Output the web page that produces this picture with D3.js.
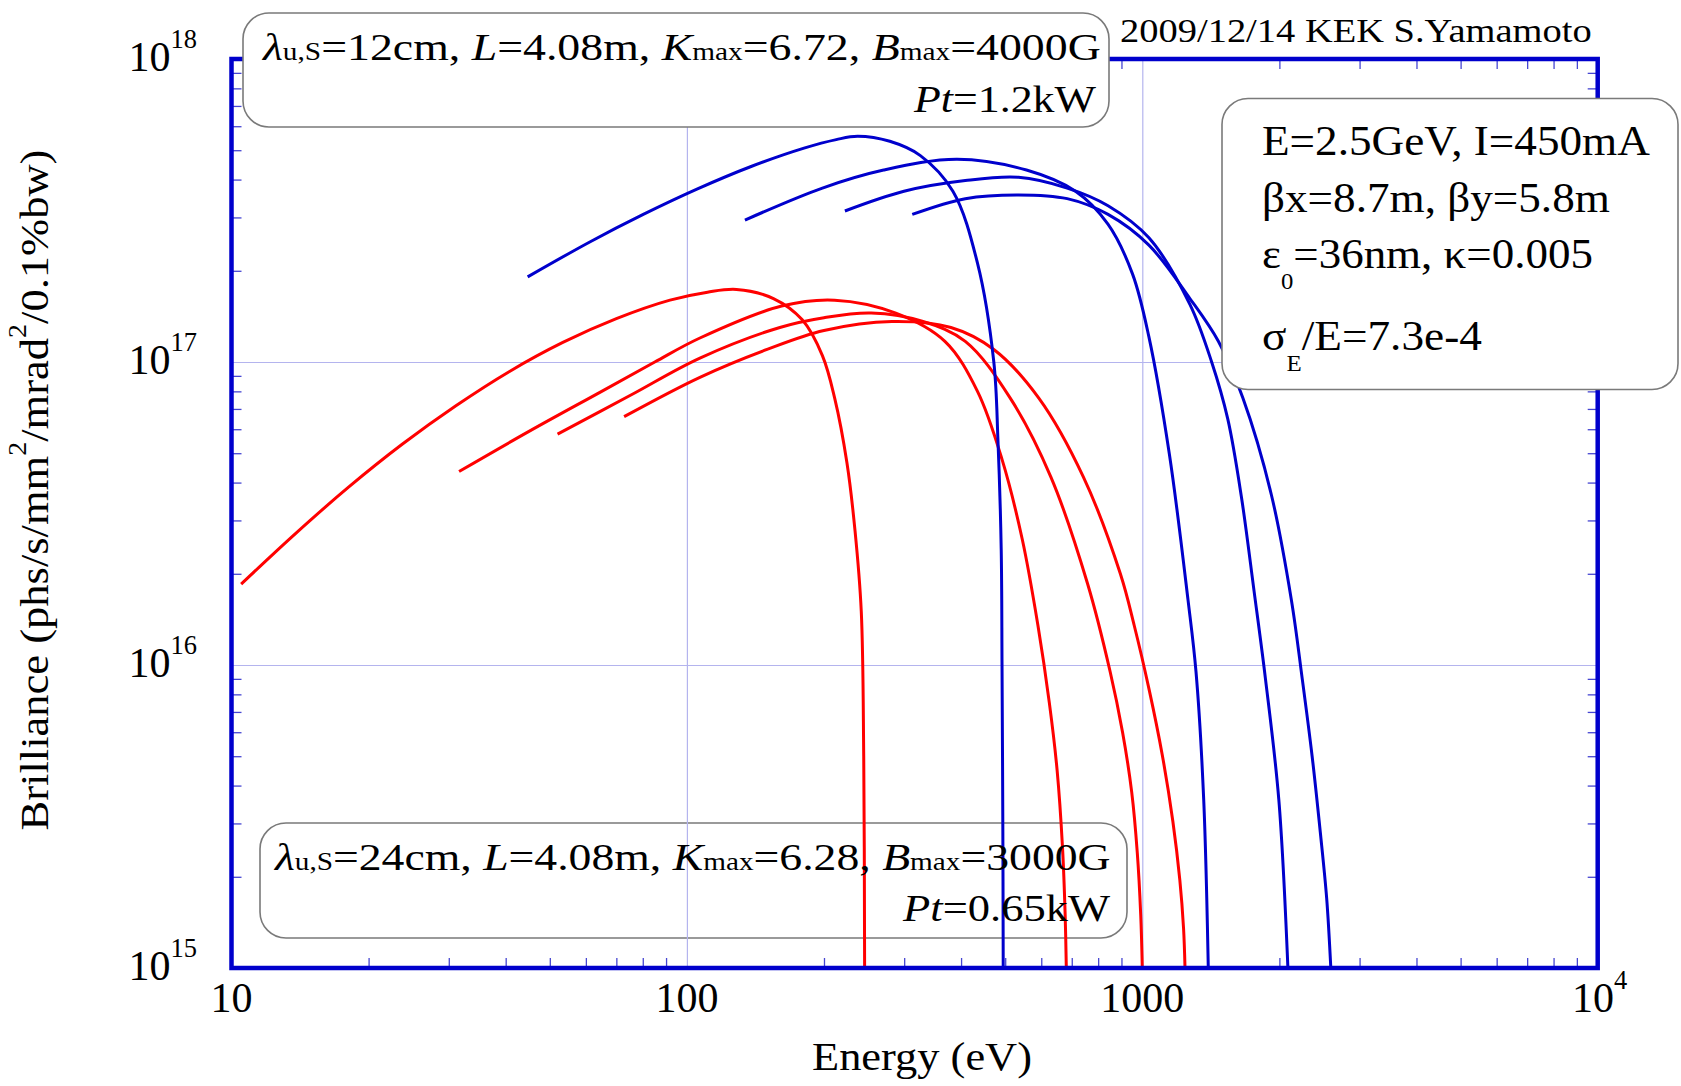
<!DOCTYPE html>
<html>
<head>
<meta charset="utf-8">
<script src="https://cdn.jsdelivr.net/npm/d3@7"></script>
<style>
  body { margin: 0; background: #fff; }
  svg { display: block; font-family: "Liberation Serif", "Times New Roman", serif; }
  text { white-space: pre; }
</style>
</head>
<body>
<svg id="chart" width="1681" height="1086"></svg>
<script>
// harmonic tuning curves (n = 1, 3, 5, 7), energy in eV, brilliance in phs/s/mm2/mrad2/0.1%bw
// lambda_u = 24 cm (red)
const red1E = [10.5, 13.8, 18.1, 23.7, 31.1, 40.7, 53.4, 70, 91.8, 111, 128.5, 154.9, 179, 198.4, 211.1, 224.6, 234, 241.5, 244.5, 245.6];
const red1B = [1.85e16, 2.71e16, 3.87e16, 5.35e16, 7.17e16, 9.29e16, 1.16e17, 1.39e17, 1.6e17, 1.7e17, 1.736e17, 1.62e17, 1.38e17, 1.05e17, 7.6e16, 4.65e16, 2.77e16, 1.5e16, 5e15, 1e15];
const red3E = [31.6, 45, 65, 85, 106.8, 161.4, 211, 287.6, 368.6, 434.6, 492, 545, 590, 625, 650, 668, 677, 681];
const red3B = [4.35e16, 5.9e16, 8.0e16, 1.0e17, 1.2e17, 1.53e17, 1.6e17, 1.45e17, 1.17e17, 8.0e16, 4.77e16, 2.6e16, 1.35e16, 7.5e15, 4.5e15, 2.5e15, 1.5e15, 1e15];
const red5E = [52, 75, 106.8, 160, 200, 254, 330, 408.6, 512.9, 630, 758.6, 850, 905, 948, 975, 992, 1000];
const red5B = [5.78e16, 7.75e16, 1.03e17, 1.3e17, 1.4e17, 1.45e17, 1.36e17, 1.17e17, 7.6e16, 4.17e16, 1.85e16, 9.5e15, 6.0e15, 3.8e15, 2.4e15, 1.5e15, 1e15];
const red7E = [72.8, 106.8, 150, 200, 281.8, 380, 472, 592.6, 742.6, 895, 960, 1036, 1106, 1167, 1209, 1232, 1241];
const red7B = [6.6e16, 8.9e16, 1.1e17, 1.27e17, 1.36e17, 1.3e17, 1.1e17, 7.6e16, 4.17e16, 2.0e16, 1.35e16, 8.25e15, 5.06e15, 3.05e15, 1.95e15, 1.35e15, 1e15];
// lambda_u = 12 cm (blue)
const blue1E = [44.7, 61.2, 80.2, 105.2, 137.9, 180.8, 212.8, 237.1, 279, 325.6, 383.8, 434.6, 472, 482, 490, 492, 494, 495];
const blue1B = [1.91e17, 2.49e17, 3.07e17, 3.72e17, 4.41e17, 5.08e17, 5.42e17, 5.56e17, 5.35e17, 4.8e17, 3.66e17, 2.12e17, 1e17, 5.5e16, 2.4e16, 1e16, 3e15, 1e15];
const blue3E = [134.1, 198.4, 270.4, 392, 556.8, 713.4, 840.6, 952, 1034, 1147, 1260, 1312, 1364, 1396];
const blue3B = [2.94e17, 3.75e17, 4.3e17, 4.67e17, 4.3e17, 3.66e17, 2.85e17, 1.95e17, 1.21e17, 4.95e16, 1.64e16, 9.5e15, 3.6e15, 1e15];
const blue5E = [222.3, 299.7, 408.6, 534.6, 684, 841, 1034, 1272, 1420, 1540, 1650, 1760, 1864, 1994, 2088];
const blue5B = [3.15e17, 3.66e17, 3.97e17, 4.07e17, 3.75e17, 3.28e17, 2.57e17, 1.55e17, 1e17, 6.5e16, 3.6e16, 1.75e16, 9e15, 3.6e15, 1e15];
const blue7E = [312.5, 408.6, 534.6, 684, 841, 1034, 1272, 1469, 1663, 1921, 2125, 2245, 2360, 2460, 2540, 2594];
const blue7B = [3.07e17, 3.46e17, 3.56e17, 3.46e17, 3.07e17, 2.43e17, 1.62e17, 1.17e17, 7.6e16, 3.64e16, 1.64e16, 9e15, 5e15, 2.8e15, 1.7e15, 1e15];

const xTickVals = [10, 100, 1000, 10000];
const xTickText = ["10", "100", "1000", "10"];
const xTickExp = ["", "", "", "4"];
const yTickVals = [1e15, 1e16, 1e17, 1e18];
const yTickExp = ["15", "16", "17", "18"];
const xGrid = [100, 1000];
const yGrid = [1e16, 1e17];

const svg = d3.select("#chart");
const pLeft = 231.5, pRight = 1597.7, pTop = 59, pBottom = 968;

const x = d3.scaleLog().domain([10, 1e4]).range([pLeft, pRight]);
const y = d3.scaleLog().domain([1e15, 1e18]).range([pBottom, pTop]);

const frameBlue = "#0000cc";

// text with italic / small / sup / sub pieces
function rich(t, parts, size) {
  t.attr("font-size", size);
  let shift = 0;
  parts.forEach(p => {
    const sp = t.append("tspan").text(p[0]);
    const k = p[1];
    let target = 0;
    if (k === "i") sp.attr("font-style", "italic");
    if (k === "s") sp.attr("font-size", size * 0.64);
    if (k === "sup") { sp.attr("font-size", size * 0.63); target = -size * 0.55; }
    if (k === "sub") { sp.attr("font-size", size * 0.55); target = size * 0.5; }
    if (target !== shift) { sp.attr("dy", target - shift); shift = target; }
  });
  return t;
}

// put text at px,py and stretch it to a given width
function place(t, px, py, width, rot) {
  const w = t.node().getComputedTextLength();
  const s = width ? width / w : 1;
  t.attr("transform", "translate(" + px + "," + py + ")" + (rot ? " rotate(" + rot + ")" : "") + " scale(" + s + ",1)");
  return t;
}

function box(bx, by, bw, bh, fill) {
  svg.append("rect")
    .attr("x", bx).attr("y", by).attr("width", bw).attr("height", bh)
    .attr("rx", 26).attr("ry", 26)
    .attr("fill", fill).attr("stroke", "#7a7a7a").attr("stroke-width", 1.6);
}

// lower box sits under the curves
box(260, 823, 867, 115, "none");

// grid
svg.append("g")
  .attr("transform", "translate(0," + pBottom + ")")
  .call(d3.axisBottom(x).tickValues(xGrid).tickSize(-(pBottom - pTop)).tickFormat(""))
  .call(g => g.select(".domain").remove())
  .call(g => g.selectAll("line").attr("stroke", "#b4b4ee").attr("stroke-width", 1.2));
svg.append("g")
  .attr("transform", "translate(" + pLeft + ",0)")
  .call(d3.axisLeft(y).tickValues(yGrid).tickSize(-(pRight - pLeft)).tickFormat(""))
  .call(g => g.select(".domain").remove())
  .call(g => g.selectAll("line").attr("stroke", "#b4b4ee").attr("stroke-width", 1.2));

// minor ticks, inward on all four sides
const xMinor = x.ticks().filter(v => !xTickVals.includes(v));
const yMinor = y.ticks().filter(v => !yTickVals.includes(v));
function minor(axis, tr) {
  svg.append("g").attr("transform", tr)
    .call(axis.tickSize(-10).tickFormat(""))
    .call(g => g.select(".domain").remove())
    .call(g => g.selectAll("line").attr("stroke", "#4646d2").attr("stroke-width", 1.3));
}
minor(d3.axisBottom(x).tickValues(xMinor), "translate(0," + pBottom + ")");
minor(d3.axisTop(x).tickValues(xMinor), "translate(0," + pTop + ")");
minor(d3.axisLeft(y).tickValues(yMinor), "translate(" + pLeft + ",0)");
minor(d3.axisRight(y).tickValues(yMinor), "translate(" + pRight + ",0)");

// curves
svg.append("clipPath").attr("id", "plot")
  .append("rect").attr("x", pLeft).attr("y", pTop).attr("width", pRight - pLeft).attr("height", pBottom - pTop);

const line = d3.line()
  .x(d => x(d[0]))
  .y(d => y(d[1]))
  .curve(d3.curveCatmullRom.alpha(0.5));

const series = [
  [red1E, red1B, "#ff0000"], [red3E, red3B, "#ff0000"], [red5E, red5B, "#ff0000"], [red7E, red7B, "#ff0000"],
  [blue1E, blue1B, "#0000cc"], [blue3E, blue3B, "#0000cc"], [blue5E, blue5B, "#0000cc"], [blue7E, blue7B, "#0000cc"]
];
const curves = svg.append("g").attr("clip-path", "url(#plot)");
series.forEach(s => {
  curves.append("path")
    .datum(d3.zip(s[0], s[1]))
    .attr("d", line)
    .attr("fill", "none")
    .attr("stroke", s[2])
    .attr("stroke-width", 3)
    .attr("stroke-linejoin", "round");
});

// frame
svg.append("rect")
  .attr("x", pLeft).attr("y", pTop).attr("width", pRight - pLeft).attr("height", pBottom - pTop)
  .attr("fill", "none").attr("stroke", frameBlue).attr("stroke-width", 4.5);

// tick labels
xTickVals.forEach((v, i) => {
  const t = svg.append("text").attr("text-anchor", "middle");
  rich(t, xTickExp[i] ? [[xTickText[i]], [xTickExp[i], "sup"]] : [[xTickText[i]]], 42);
  place(t, x(v) + (xTickExp[i] ? 2 : 0), 1012);
});
yTickVals.forEach((v, i) => {
  const t = svg.append("text").attr("text-anchor", "end");
  rich(t, [["10"], [yTickExp[i], "sup"]], 42);
  place(t, 197, y(v) + 12);
});

// axis titles
const xl = rich(svg.append("text").attr("text-anchor", "middle"), [["Energy (eV)"]], 40);
place(xl, 922, 1070, 220);
const yl = rich(svg.append("text").attr("text-anchor", "middle"),
  [["Brilliance (phs/s/mm"], ["2", "sup"], ["/mrad"], ["2", "sup"], ["/0.1%bw)"]], 40);
place(yl, 48, 490, 681, -90);

// author line
const au = rich(svg.append("text"), [["2009/12/14 KEK S.Yamamoto"]], 34);
place(au, 1120, 42, 472);

// upper undulator box
box(243, 13, 866, 114, "#fff");
const b1a = rich(svg.append("text"), [
  ["λ", "i"], ["u,S", "s"], ["=12cm, "], ["L", "i"], ["=4.08m, "], ["K", "i"], ["max", "s"],
  ["=6.72, "], ["B", "i"], ["max", "s"], ["=4000G"]
], 38);
place(b1a, 263, 60, 838);
const b1b = rich(svg.append("text").attr("text-anchor", "end"), [["Pt", "i"], ["=1.2kW"]], 38);
place(b1b, 1096, 112, 182);

// lower undulator box text
const b2a = rich(svg.append("text"), [
  ["λ", "i"], ["u,S", "s"], ["=24cm, "], ["L", "i"], ["=4.08m, "], ["K", "i"], ["max", "s"],
  ["=6.28, "], ["B", "i"], ["max", "s"], ["=3000G"]
], 38);
place(b2a, 275, 870, 836);
const b2b = rich(svg.append("text").attr("text-anchor", "end"), [["Pt", "i"], ["=0.65kW"]], 38);
place(b2b, 1110, 921, 207);

// ring parameter box
box(1222, 98.5, 456, 291, "#fff");
const ringLines = [
  [[["E=2.5GeV, I=450mA"]], 155, 388],
  [[["βx=8.7m, βy=5.8m"]], 212, 348],
  [[["ε"], ["0", "sub"], ["=36nm, κ=0.005"]], 268, 331],
  [[["σ"], ["E", "sub"], ["/E=7.3e-4"]], 350, 220]
];
ringLines.forEach(l => {
  const t = rich(svg.append("text"), l[0], 43);
  place(t, 1262, l[1], l[2]);
});
</script>
</body>
</html>
